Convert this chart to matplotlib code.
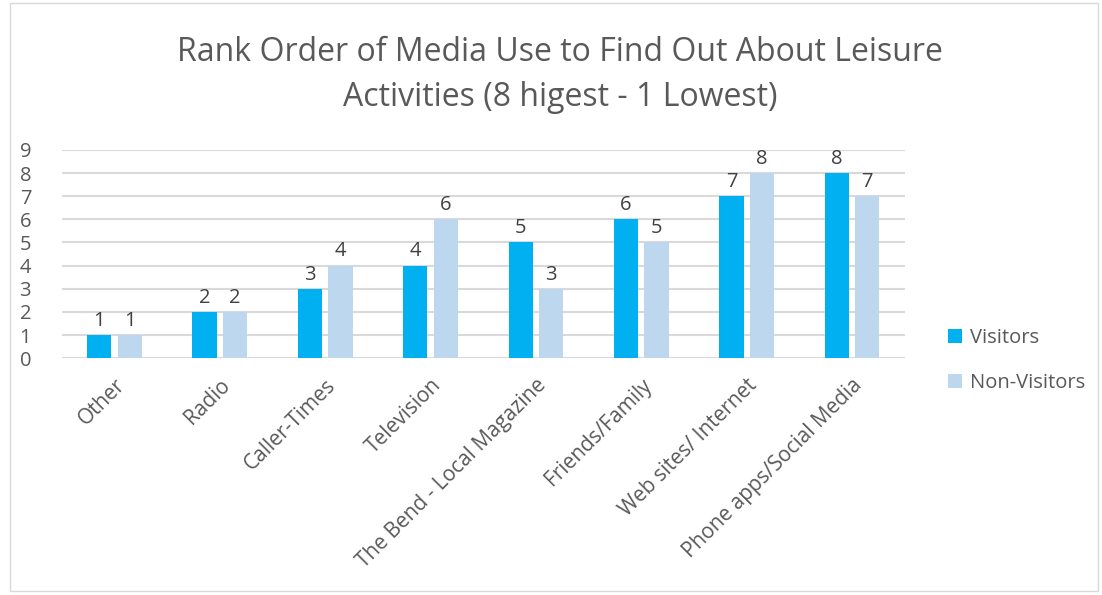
from matplotlib import pyplot as plt
from matplotlib.patches import Rectangle
import numpy as np

categories = ["Other", "Radio", "Caller-Times", "Television",
              "The Bend - Local Magazine", "Friends/Family",
              "Web sites/ Internet", "Phone apps/Social Media"]
visitors = [1, 2, 3, 4, 5, 6, 7, 8]
non_visitors = [1, 2, 4, 6, 3, 5, 8, 7]

plt.rcParams["font.family"] = ["Open Sans", "DejaVu Sans"]
text_color = "#595959"

fig = plt.figure(figsize=(11.02, 5.95), dpi=100)
fig.patches.append(Rectangle((10 / 1102, 4 / 595), 1088 / 1102, 588 / 595,
                             transform=fig.transFigure, fill=False,
                             edgecolor="#d9d9d9", linewidth=1))
ax = fig.add_axes([0.056, 0.398, 0.765, 0.35])

x = np.arange(len(categories))
w = 0.23
b1 = ax.bar(x - 0.145, visitors, w, color="#00b0f0", label="Visitors", zorder=3)
b2 = ax.bar(x + 0.145, non_visitors, w, color="#bdd7ee", label="Non-Visitors", zorder=3)
for bars in (b1, b2):
    ax.bar_label(bars, padding=3, fontsize=14.5, color="#404040")

ax.set_xlim(-0.5, len(categories) - 0.5)
ax.set_ylim(0, 9)
ax.set_yticks(range(10))
ax.grid(axis="y", color="#d9d9d9", linewidth=1.5, zorder=0)
for s in ax.spines.values():
    s.set_visible(False)
ax.tick_params(length=0, labelsize=14.5, colors=text_color)
ax.tick_params(axis="y", pad=22)
ax.tick_params(axis="x", pad=12, labelsize=15)
ax.set_xticks(x)
ax.set_xticklabels(categories, rotation=45, ha="right", rotation_mode="anchor")

# two-line title, drawn line by line
fig.text(0.508, 0.912, "Rank Order of Media Use to Find Out About Leisure",
         ha="center", va="center", fontsize=23, color=text_color)
fig.text(0.508, 0.836, "Activities (8 higest - 1 Lowest)",
         ha="center", va="center", fontsize=23, color=text_color)

ax.legend(loc="center left", bbox_to_anchor=(1.03, -0.01), frameon=False,
          fontsize=14.5, labelcolor=text_color, handlelength=0.7, handleheight=0.7,
          labelspacing=1.25, handletextpad=0.4)

fig.savefig("out.png", dpi=100)
